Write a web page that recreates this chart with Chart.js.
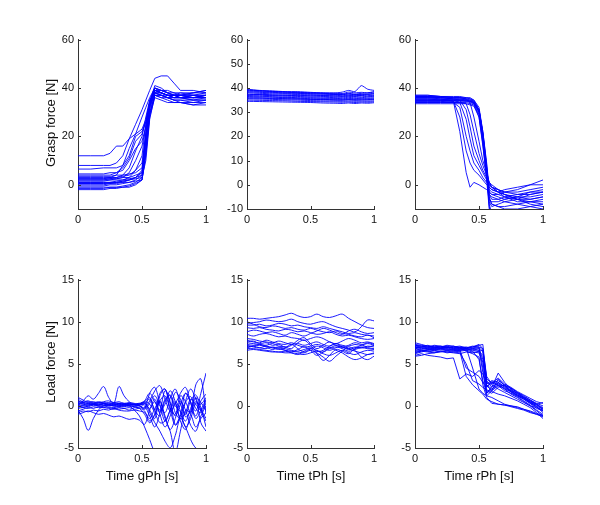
<!DOCTYPE html>
<html>
<head>
<meta charset="utf-8">
<title>Grasp and load force per phase</title>
<script src="https://cdn.jsdelivr.net/npm/chart.js@4.4.0/dist/chart.umd.min.js"></script>
<style>
    body { margin: 0; background: #fff; }
    #figure {
        position: relative;
        width: 600px;
        height: 505px;
        font-family: 'Liberation Sans', Arial, sans-serif;
        color: #111;
    }
    #figure canvas { position: absolute; }
    .axis-title {
        position: absolute;
        font-size: 13px;
        white-space: nowrap;
        transform: translate(-50%, -50%);
    }
    .axis-title.vertical { transform: translate(-50%, -50%) rotate(-90deg); }
</style>
</head>
<body>
<div id="figure">
    <canvas id="gphGrasp"></canvas>
    <canvas id="tphGrasp"></canvas>
    <canvas id="rphGrasp"></canvas>
    <canvas id="gphLoad"></canvas>
    <canvas id="tphLoad"></canvas>
    <canvas id="rphLoad"></canvas>

    <div class="axis-title vertical" style="left:50px; top:123px">Grasp force [N]</div>
    <div class="axis-title vertical" style="left:50px; top:362px">Load force [N]</div>
    <div class="axis-title" style="left:142px; top:475px">Time gPh [s]</div>
    <div class="axis-title" style="left:311px; top:475px">Time tPh [s]</div>
    <div class="axis-title" style="left:479px; top:475px">Time rPh [s]</div>
</div>

<script>
// ---- tick labels ----
const timeTicks = [0, 0.5, 1];
const graspTicksSparse = [0, 20, 40, 60];
const graspTicksDense = [-10, 0, 10, 20, 30, 40, 50, 60];
const loadTicks = [-5, 0, 5, 10, 15];

// ---- grip phase (gPh), grasp force ----
const gphGraspTime = [0, 0.1, 0.2, 0.25, 0.3, 0.35, 0.4, 0.45, 0.5, 0.53, 0.56, 0.6, 0.65, 0.7, 0.75, 0.8, 0.9, 1];
const gphGraspTrials = [
    [12, 12, 12, 13, 16, 16, 19, 21, 28, 32, 36, 40, 38, 37, 37, 36, 36, 37],
    [8, 8, 8, 8, 9, 12, 19, 25, 31, 35, 39, 44, 45, 45, 42, 39, 39, 38],
    [6.5, 6.5, 7, 7, 7, 8, 12, 20, 22, 26, 32, 39, 38, 37, 36, 36, 35, 35],
    [4.5, 4.5, 4.5, 5, 5, 6, 10, 15, 18, 24, 33, 38, 38, 37, 37, 37, 36, 36],
    [3, 3, 3, 3, 4, 8, 15, 21, 23, 27, 34, 39, 39, 38, 37, 37, 37, 38],
    [2, 2, 2, 2.5, 3, 4, 7, 14, 20, 28, 35, 38, 37, 36, 36, 36, 36, 37],
    [1, 1, 1, 1, 1.5, 2, 3, 6, 12, 25, 34, 39, 38, 37, 37, 38, 38, 39],
    [0, 0, 0, 0.5, 1, 1, 2, 3, 6, 18, 32, 38, 37, 36, 36, 36, 35, 35],
    [-1, -1, -1, -1, -1, -0.5, 0, 1, 3, 15, 30, 37, 36, 35, 34, 34, 33, 34],
    [-2, -2, -2, -1.5, -1.5, -1, -1, 0, 2, 12, 28, 36, 35, 34, 34, 34, 33, 33],
    [2.5, 2.5, 2.5, 2.5, 2.5, 3, 3, 4, 5, 20, 33, 39, 38, 37, 37, 37, 37, 36],
    [1.5, 1.5, 1.5, 2, 2, 2, 2.5, 3, 4, 16, 31, 38, 38, 37, 36, 37, 36, 37],
    [3.5, 3.5, 3.5, 3.5, 4, 4, 4.5, 5, 7, 22, 35, 40, 39, 39, 38, 37, 38, 39],
    [0.5, 0.5, 0.5, 0.5, 0.5, 1, 1, 1.5, 2, 14, 29, 37, 37, 36, 35, 35, 35, 36],
    [2, 2, 2, 2, 2.5, 3, 5, 10, 16, 24, 34, 41, 40, 38, 38, 38, 37, 37],
    [-0.5, -0.5, -0.5, 0, 0, 0.5, 1, 2, 4, 20, 33, 38, 37, 37, 36, 36, 37, 37],
    [4, 4, 4, 4, 5, 7, 11, 18, 21, 26, 34, 40, 39, 38, 37, 37, 36, 36],
    [1, 1, 1, 1, 1, 1.5, 2, 2.5, 3, 10, 27, 37, 37, 36, 35, 34, 34, 34],
    [0.5, 0.5, 0.5, 1, 1, 1.5, 2, 3, 5, 19, 33, 39, 38, 37, 37, 36, 36, 36],
    [2.5, 2.5, 2.5, 3, 3, 3.5, 4, 6, 9, 21, 34, 40, 39, 38, 37, 37, 38, 38],
    [-1.5, -1.5, -1.5, -1, -1, -1, -0.5, 0.5, 2, 13, 29, 37, 36, 36, 35, 35, 34, 35]
];

// ---- transport phase (tPh), grasp force ----
const tphGraspTime = [0, 0.1, 0.2, 0.3, 0.4, 0.5, 0.6, 0.7, 0.75, 0.8, 0.85, 0.9, 0.95, 1];
const tphGraspTrials = [
    [39.5, 39, 38.8, 38.5, 38.5, 38.2, 38, 38, 38.3, 39, 38.5, 41, 39.5, 39],
    [39, 38.8, 38.5, 38.3, 38, 38, 37.8, 37.5, 37.5, 37.8, 37.5, 37.8, 38, 38.5],
    [38.5, 38.2, 38, 37.8, 37.8, 37.5, 37.5, 37.3, 37.2, 37.5, 37.3, 37.3, 37.5, 37.8],
    [38, 37.8, 37.6, 37.5, 37.3, 37.2, 37, 37, 36.8, 37, 36.8, 37, 37.2, 37],
    [37.5, 37.3, 37, 37, 36.8, 36.7, 36.5, 36.4, 36.4, 36.5, 36.5, 36.6, 36.4, 36.6],
    [37, 37, 36.8, 36.6, 36.5, 36.3, 36.2, 36, 36, 36.1, 36, 36, 36.2, 36.3],
    [36.8, 36.6, 36.4, 36.2, 36, 36, 35.8, 35.7, 35.6, 35.7, 35.6, 35.8, 35.7, 35.9],
    [36.5, 36.3, 36.2, 36, 35.8, 35.6, 35.5, 35.4, 35.3, 35.4, 35.3, 35.5, 35.4, 35.5],
    [36, 35.9, 35.8, 35.6, 35.5, 35.3, 35.2, 35, 35, 35.1, 35, 35.1, 35, 35.2],
    [35.5, 35.4, 35.3, 35.1, 35, 34.8, 34.7, 34.6, 34.5, 34.6, 34.5, 34.6, 34.5, 34.7],
    [35, 34.9, 34.8, 34.7, 34.5, 34.4, 34.3, 34.2, 34.1, 34.2, 34, 34.2, 34.1, 34.3],
    [34.5, 34.4, 34.3, 34.2, 34.1, 34, 33.8, 33.7, 33.6, 33.8, 33.6, 33.8, 33.7, 33.9],
    [37.2, 37.4, 37.2, 37, 37, 36.8, 36.9, 36.7, 36.6, 36.8, 36.7, 36.9, 36.8, 37.1],
    [38.3, 38.5, 38.2, 38, 37.9, 37.7, 37.5, 37.4, 37.3, 37.5, 37.2, 37.5, 37.4, 37.6],
    [35.8, 35.8, 35.6, 35.5, 35.4, 35.3, 35.3, 35.1, 35, 35.2, 35, 35.1, 35.2, 35.4],
    [39.2, 38.9, 38.6, 38.4, 38.2, 38, 37.9, 37.8, 37.7, 38.3, 38, 38.2, 38, 38.3]
];

// ---- release phase (rPh), grasp force ----
const rphGraspTime = [0, 0.1, 0.2, 0.3, 0.35, 0.4, 0.43, 0.46, 0.5, 0.53, 0.56, 0.58, 0.6, 0.65, 0.7, 0.8, 0.9, 1];
const rphGraspTrials = [
    [36, 36, 35.5, 34.5, 22, 5, -1, 1, 0, -1, -2, -3, -4, -5, -6, -5, -3, -2],
    [35, 35, 35, 34.5, 28, 14, 9, 6, 4, 2, 0, -1, -2, -3, -4, -6, -7, -8],
    [34, 34, 34, 34, 32, 20, 14, 9, 6, 3, 1, 0, -1, -2, -3, -2, 0, 2],
    [35.5, 35.5, 35, 35, 34, 27, 19, 12, 8, 5, 2, 0, -1, -3, -4, -5, -5, -4],
    [36.5, 36.5, 36, 35.5, 35, 31, 24, 16, 10, 6, 3, 1, 0, -2, -3, -4, -3, -3],
    [34.5, 34.5, 34.5, 34, 34, 33.5, 29, 22, 13, 8, 4, 1, -1, -2, -4, -6, -8, -9],
    [37, 37, 36.5, 36, 36, 35.5, 34, 28, 18, 10, 5, 1, -1, -3, -5, -7, -7, -6],
    [36, 36, 36, 35.5, 35.5, 35.5, 35, 34, 30, 20, 6, -4, -6, -6, -5, -4, -4, -3],
    [35, 35, 35, 35, 35, 34.5, 34.5, 33.5, 28, 16, 3, -6, -7, -7, -6, -5, -6, -5],
    [34, 34, 34, 34, 34, 34, 33.5, 33, 29, 18, 4, -8, -12, -12, -12, -12, -12, -12],
    [37, 37, 36.5, 36.5, 36.5, 36, 36, 35, 31, 21, 7, -3, -4, -4, -5, -6, -6, -5],
    [35.5, 35.5, 35.5, 35, 35, 35, 34.5, 34, 31, 22, 9, -2, -3, -4, -3, -3, -2, -1],
    [33.5, 33.5, 33.5, 33.5, 33.5, 33.5, 33, 32.5, 28, 17, 2, -10, -14, -14, -14, -14, -14, -14],
    [36.5, 36.5, 36.5, 36, 36, 36, 35.5, 35, 32, 22, 8, -5, -8, -9, -9, -8, -7, -7],
    [34.5, 34.5, 34.5, 34.5, 34.5, 34.5, 34, 33.5, 30, 19, 5, -7, -9, -8, -7, -6, -4, -3],
    [35, 35, 35, 35, 35, 35, 34.5, 34, 30.5, 20, 5, -9, -15, -15, -15, -15, -15, -15],
    [36, 36, 36, 35.5, 35.5, 35, 35, 34.5, 31, 21, 6, -4, -5, -6, -7, -8, -9, -10],
    [36.5, 36.5, 36, 36, 36, 35.5, 35.5, 34.5, 30, 19, 5, -6, -8, -9, -10, -10, -9, -8],
    [35, 35, 35, 35, 35, 35, 34.5, 34, 31, 21, 7, -1, -2, -3, -2, -1, 0, 0]
];

// ---- grip phase (gPh), load force ----
const gphLoadTime = [0, 0.04, 0.08, 0.12, 0.16, 0.2, 0.24, 0.28, 0.32, 0.36, 0.4, 0.44, 0.48,
    0.52, 0.56, 0.6, 0.64, 0.68, 0.72, 0.76, 0.8, 0.84, 0.88, 0.92, 0.96, 1];
const gphLoadTrials = [
    [0.5, 0.4, 0.3, 0.3, 0.2, 0.3, 0.2, 0.2, 0.3, 0.2, 0.1, 0.2, 0.1, 0.3, 0.8, -0.5, -1.2, 0.6, 1.2, -0.8, -1.5, 0.4, 1.1, -0.3, -0.8, 0.6],
    [0, -0.2, 0, 0.1, 0, 0, 0.1, 0, -0.1, 0, 0, -0.1, 0, -0.3, 1.5, 2.2, 0.2, -1.8, -0.5, 1.6, 0.8, -1.3, -0.6, 0.9, 0.4, -0.5],
    [0.8, 0.5, 0.6, 0.4, 0.5, 0.4, 0.3, 0.4, 0.3, 0.3, 0.2, 0.2, 0.3, 0, -1.2, -2.5, -0.8, 1.8, 0.5, -2.2, -1, 1.5, 0.3, -1.5, -0.5, 0.8],
    [-0.5, -1.5, -2.9, -1.5, -0.5, 0, -0.2, -0.3, -0.5, -0.6, -0.6, -0.5, -0.6, -0.8, -1.5, -0.3, 0.6, -1.2, -2.8, -1.5, 0.5, -0.5, -2.3, -3, -1.2, 0],
    [0.2, 0.6, 1.2, 0.8, 1.5, 2.3, 1, 0.3, 2.3, 1.2, 0.5, 0.2, 0.3, 0.5, 0.2, -0.8, -2, -1.8, -0.5, 0.5, -0.6, -2.5, -1.5, 0.3, 0.2, 1],
    [0.3, 0.3, 0.2, 0.2, 0.2, 0.1, 0.1, 0, 0, 0.1, 0, -0.5, -1.2, -2.5, -4, -5.5, -6, -6, -6, -6, -6, -6, -6, -6, -6, -6],
    [-0.8, -0.6, -0.7, -0.5, -0.6, -0.4, -0.5, -0.3, -0.4, -0.3, -0.5, -0.2, -0.3, -1, -2, -1, 0.5, -1.5, -3, -5.5, -3, -0.5, -1, -2.5, -1.5, -0.8],
    [0.1, 0, 0.1, 0.2, 0.1, 0.2, 0.1, 0.1, 0.2, 0.1, 0.2, 0.2, 0.1, 0.5, 1, -0.5, 1.5, 2, -0.2, -1, 1.2, 0.5, -0.8, 2.5, 3.2, -1],
    [0.6, 0.4, 0.5, 0.3, 0.4, 0.3, 0.4, 0.2, 0.3, 0.2, 0.3, 0.1, 0.2, 0.4, -0.5, -1.5, 1.2, 2, 0.3, -1.2, 0.2, 1.5, 0.5, -0.6, 1.5, 3.9],
    [-0.3, -0.2, -0.3, -0.1, -0.2, -0.2, -0.1, -0.2, -0.1, -0.1, 0, -0.1, -0.2, 0.2, -0.8, -2, -3, -4.2, -5, -3.5, -1.5, -2.5, -4, -5, -5.2, -5.5],
    [1, 0.7, 0.4, 0.5, 0.3, 0.5, 0.6, 0.4, 0.5, 0.3, 0.4, 0.3, 0.2, 0.6, 1.5, 0.5, -0.5, 0.2, 1.8, 0.5, -1.5, -0.8, 0.8, 0.2, -0.5, 0.3],
    [-1, -0.8, -0.6, -0.8, -1, -0.9, -1.1, -1.3, -1.2, -1.4, -1.6, -1.5, -1.7, -2.2, -0.5, 0.8, -1, -2.5, -1.2, 0.3, -1.8, -2.8, -1, 0.5, -0.4, -1.5],
    [0.4, 0.2, 0.1, 0.2, 0.1, 0.3, 0.1, 0.2, 0.1, 0.2, 0.1, 0.2, 0, -0.4, 0.3, 1.2, 0, -0.8, 0.9, 2, 0.2, -1, 0.6, 1.3, -0.2, -2.5],
    [-0.2, 0, -0.1, 0.1, 0, 0, 0.1, 0, 0.1, 0, 0.1, 0, 0.1, 0.3, -0.3, 0.5, -0.8, 0.8, 1.3, 0, -0.7, -1.8, -0.3, 1, -2, -3],
    [0.2, 0.1, 0.3, 0.2, 0.4, 0.3, 0.2, 0.3, 0.1, 0.2, 0.3, 0.1, 0, -0.2, 0.6, 1.8, 2.4, 0.8, -0.6, 0.2, 1.5, 2.2, 0.4, -1.2, 0.6, 1.4],
    [-0.6, -0.4, -0.2, -0.3, -0.1, -0.2, -0.3, -0.4, -0.2, -0.3, -0.2, -0.4, -0.3, -0.6, -1.8, -1, 0.6, 1.2, -0.5, -2.3, -1.2, 0.6, 2, 0.8, -0.6, -1.8]
];

// ---- transport phase (tPh), load force ----
const tphLoadTime = [0, 0.05, 0.1, 0.15, 0.2, 0.25, 0.3, 0.35, 0.4, 0.45, 0.5,
    0.55, 0.6, 0.65, 0.7, 0.75, 0.8, 0.85, 0.9, 0.95, 1];
const tphLoadTrials = [
    [10.4, 10.4, 10.3, 10.4, 10.5, 10.6, 10.8, 11, 10.7, 10.5, 10.6, 10.9, 10.6, 10.5, 10.7, 10.9, 10.4, 10, 9.6, 9.3, 9.2],
    [9.8, 9.9, 10, 10.2, 10.1, 10, 10.1, 10.3, 10, 9.8, 9.7, 9.9, 10, 9.7, 9.4, 9.2, 9, 8.8, 9.4, 10.2, 10.1],
    [9.6, 9.6, 9.7, 9.5, 9.6, 9.8, 9.7, 9.5, 9.6, 9.4, 9.3, 9.2, 9.4, 9.2, 9, 8.8, 8.6, 8.7, 8.5, 8.4, 8.3],
    [10, 9.7, 9.4, 9.3, 9.5, 9.4, 9.2, 9.3, 9.1, 9, 9.2, 9, 8.8, 8.7, 8.9, 8.6, 8.5, 8.3, 8.2, 8.4, 8.1],
    [9.3, 9.2, 9.3, 9.1, 9, 8.9, 9.1, 9, 8.8, 8.9, 8.7, 8.5, 8.6, 8.8, 8.5, 8.3, 8.4, 8.2, 8, 7.9, 8],
    [8.8, 9, 8.9, 8.7, 8.8, 8.6, 8.4, 8.7, 8.5, 8.3, 8.6, 8.9, 9.2, 9, 8.7, 8.5, 8.9, 9.1, 8.8, 8.6, 8.7],
    [8.5, 8.3, 8.5, 8.6, 8.4, 8.2, 8.3, 8.1, 8, 7.8, 8, 8.2, 8, 7.6, 7.4, 7.7, 8, 7.8, 7.5, 7.6, 7.4],
    [7.8, 7.6, 7.5, 7.8, 7.6, 7.4, 7.3, 7.5, 7.2, 7, 7.1, 7.3, 7.1, 6.9, 7.2, 7, 6.8, 7, 6.9, 7.1, 7],
    [7.5, 7.4, 7.3, 7.2, 7.4, 7.1, 7, 6.8, 7.5, 7.8, 7.2, 6.5, 6.6, 7.1, 7.4, 7, 6.7, 6.9, 7.2, 7.5, 7.3],
    [7.3, 7.2, 7.3, 7.1, 6.9, 7, 6.8, 6.6, 6.5, 6.7, 6.9, 6.6, 6.4, 6.8, 7, 6.8, 6.5, 6.7, 6.9, 6.8, 6.7],
    [7, 7.1, 6.9, 6.8, 7, 6.8, 6.6, 6.5, 6.4, 6.3, 6.6, 6.2, 5.4, 6, 6.7, 6.5, 6.2, 6.8, 7, 6.9, 6.8],
    [6.8, 6.8, 6.7, 6.6, 6.5, 6.4, 6.5, 6.3, 6.1, 6.5, 6.8, 6.3, 5.8, 5.3, 5.9, 6.5, 7, 6.6, 5.8, 5.5, 5.9],
    [7.6, 7.7, 7.4, 7.5, 7.2, 7.3, 7, 7.2, 7.8, 8.1, 7.4, 6.8, 7.2, 7.6, 7.2, 6.9, 7.2, 7.5, 7.3, 7, 7.2],
    [6.6, 6.7, 6.6, 6.5, 6.4, 6.4, 6.3, 6.3, 6.2, 6.1, 6.3, 6.5, 6.2, 6, 6.3, 6.6, 6.3, 6.1, 6.4, 6.6, 6.5],
    [8, 7.9, 7.7, 7.6, 7.5, 7.7, 7.5, 7.3, 7.4, 7.2, 7.4, 7.6, 7.3, 7.1, 7.4, 7.2, 7.1, 7.3, 7.2, 7.4, 7.2],
    [7.2, 7, 6.9, 7.1, 6.9, 6.7, 6.9, 7.3, 6.8, 6.4, 6.8, 7.1, 6.9, 6.6, 6.9, 7.1, 6.8, 6.5, 6.3, 6.1, 6.3],
    [6.9, 7.1, 7.2, 7, 6.7, 6.9, 6.6, 6.4, 6.7, 7, 6.6, 6, 6.4, 6.9, 6.6, 6.3, 5.8, 5.5, 5.7, 6.1, 6.2]
];

// ---- release phase (rPh), load force ----
const rphLoadTime = [0, 0.05, 0.1, 0.15, 0.2, 0.25, 0.3, 0.35, 0.4, 0.45, 0.5,
    0.53, 0.56, 0.6, 0.65, 0.7, 0.75, 0.8, 0.85, 0.9, 0.95, 1];
const rphLoadTrials = [
    [7.2, 7.1, 7, 6.9, 6.9, 7, 6.8, 6.9, 7, 6.8, 6.9, 6.5, 2.5, 2, 2.8, 2.2, 1.8, 1.5, 1, 0.6, 0.2, -0.2],
    [6.8, 6.9, 6.8, 6.7, 6.8, 6.6, 6.7, 6.8, 6.6, 6.7, 6.8, 5.5, 1.8, 1.5, 2.2, 2.5, 1.6, 1.2, 0.8, 0.3, -0.3, -0.6],
    [7.5, 7.3, 7.1, 7, 7.1, 6.9, 7, 7.1, 6.9, 7, 7.2, 7.3, 3, 2.2, 3.9, 2.8, 2, 1.4, 1, 0.5, 0, -0.4],
    [6.2, 6.4, 6.6, 6.8, 6.7, 6.8, 6.6, 6.7, 6.8, 6.6, 6.5, 6, 2.2, 2.8, 2.4, 1.8, 1.5, 1.1, 0.6, 0.1, -0.5, -1],
    [7, 6.8, 6.9, 7.1, 7, 6.9, 7.1, 6.9, 6.8, 6.9, 7, 6.8, 3.5, 2.6, 3, 2.5, 2.1, 1.6, 1.2, 0.7, 0.3, 0],
    [6.5, 6.6, 6.7, 6.6, 6.5, 6.6, 6.5, 6.6, 6.7, 6.8, 6.6, 4, 1.5, 2.3, 2.7, 2, 1.4, 1, 0.5, 0, -0.2, -0.5],
    [5.9, 6, 6.2, 6.3, 6.4, 6.5, 6.4, 6.5, 6.6, 6.4, 6.3, 5.2, 2.4, 1.8, 2.4, 2.1, 1.7, 1.3, 0.9, 0.4, -0.1, -0.8],
    [6, 6.2, 6, 5.9, 5.8, 5.6, 5.7, 3.2, 3.8, 3.5, 4.2, 3.8, 2.8, 2.5, 2, 1.6, 1.2, 0.8, 0.4, 0, -0.6, -1.2],
    [6.8, 6.6, 6.5, 6.4, 6.5, 6.3, 6.4, 6.3, 5, 3, 2.6, 2.2, 1.9, 1.7, 1.4, 1.2, 0.9, 0.6, 0.2, -0.2, -0.8, -1.5],
    [7.3, 7.2, 7.1, 6.9, 7, 7.1, 6.9, 6.8, 6.9, 4.5, 2, 1.5, 1.2, 1, 0.6, 0.2, 0, -0.2, -0.4, -0.6, -0.9, -1.1],
    [6.6, 6.7, 6.5, 6.6, 6.8, 6.7, 6.6, 6.5, 3.5, 2.5, 1.8, 1.4, 0.8, 0.5, 0.2, 0.1, 0, -0.1, -0.4, -0.7, -1, -1.3],
    [7, 6.9, 6.8, 6.7, 6.8, 6.9, 6.7, 6.6, 6.8, 6.5, 5.5, 3, 1.5, 2, 2.5, 2.4, 1.9, 1.5, 1, 0.4, 0.1, -0.3],
    [6.4, 6.5, 6.4, 6.3, 6.5, 6.4, 6.3, 6.2, 6.4, 6.3, 6.5, 6.6, 3.2, 2.7, 3.3, 2.6, 2.2, 1.7, 1.3, 0.9, 0.5, 0.3],
    [7.1, 7, 7.2, 7, 6.8, 6.9, 7, 6.9, 6.5, 6.2, 5.8, 2.5, 1, 0.3, 0.2, 0.1, -0.1, -0.3, -0.5, -0.8, -1, -1.2],
    [6.3, 6.5, 6.7, 6.9, 7, 7.2, 7.1, 6.9, 6.8, 7, 7.3, 6.8, 2.6, 3, 2.8, 2.3, 1.8, 1.3, 0.9, 0.5, 0.2, 0.4],
    [6.9, 7, 6.9, 6.8, 6.9, 7, 6.8, 6.7, 4.5, 4, 3.5, 2.8, 2.3, 2.9, 2.5, 2, 1.7, 1.2, 0.8, 0.3, -0.1, -0.6],
    [7.2, 7.1, 7, 7.2, 7.1, 7, 6.9, 7, 6.9, 7.1, 7, 4.5, 1.2, 1.8, 3.2, 2.4, 2.1, 1.6, 1.1, 0.7, 0.2, -0.4]
];

// ---- layout (plot-area boxes in page pixels) ----
const Y_AXIS_W = 40;
const X_AXIS_H = 20;
const PAD_TOP = 8;
const PAD_RIGHT = 10;
const LINE_COLOR = '#0000ff';
const AXIS_COLOR = '#333';

const panels = [
    { id: 'gphGrasp', box: { left: 78, top: 37, width: 128, height: 172 }, time: gphGraspTime, trials: gphGraspTrials, yMin: -10, yMax: 60, yTicks: graspTicksSparse, tension: 0 },
    { id: 'tphGrasp', box: { left: 247, top: 37, width: 127, height: 172 }, time: tphGraspTime, trials: tphGraspTrials, yMin: -10, yMax: 60, yTicks: graspTicksDense, tension: 0.2 },
    { id: 'rphGrasp', box: { left: 415, top: 37, width: 128, height: 172 }, time: rphGraspTime, trials: rphGraspTrials, yMin: -10, yMax: 60, yTicks: graspTicksSparse, tension: 0 },
    { id: 'gphLoad', box: { left: 78, top: 277, width: 128, height: 171 }, time: gphLoadTime, trials: gphLoadTrials, yMin: -5, yMax: 15, yTicks: loadTicks, tension: 0.35 },
    { id: 'tphLoad', box: { left: 247, top: 277, width: 127, height: 171 }, time: tphLoadTime, trials: tphLoadTrials, yMin: -5, yMax: 15, yTicks: loadTicks, tension: 0.35 },
    { id: 'rphLoad', box: { left: 415, top: 277, width: 128, height: 171 }, time: rphLoadTime, trials: rphLoadTrials, yMin: -5, yMax: 15, yTicks: loadTicks, tension: 0 }
];

// MATLAB-style tick marks pointing into the plot area
const inwardTicks = {
    id: 'inwardTicks',
    afterDatasetsDraw(chart) {
        const { ctx, chartArea: area, scales: { x, y } } = chart;
        ctx.save();
        ctx.strokeStyle = AXIS_COLOR;
        ctx.lineWidth = 1;
        ctx.beginPath();
        x.ticks.forEach(t => {
            const px = Math.round(x.getPixelForValue(t.value)) + 0.5;
            ctx.moveTo(px, area.bottom);
            ctx.lineTo(px, area.bottom - 3);
        });
        y.ticks.forEach(t => {
            const py = Math.round(y.getPixelForValue(t.value)) + 0.5;
            ctx.moveTo(area.left, py);
            ctx.lineTo(area.left + 3, py);
        });
        ctx.stroke();
        ctx.restore();
    }
};

const tickFont = { family: "'Liberation Sans', Arial, sans-serif", size: 11 };

function buildPanel(panel) {
    const canvas = document.getElementById(panel.id);
    canvas.width = Y_AXIS_W + panel.box.width + PAD_RIGHT;
    canvas.height = PAD_TOP + panel.box.height + X_AXIS_H;
    canvas.style.left = (panel.box.left - Y_AXIS_W) + 'px';
    canvas.style.top = (panel.box.top - PAD_TOP) + 'px';

    const datasets = panel.trials.map(values => ({
        data: values.map((v, i) => ({ x: panel.time[i], y: v })),
        borderColor: LINE_COLOR,
        borderWidth: 0.9,
        pointRadius: 0,
        tension: panel.tension,
        fill: false
    }));

    new Chart(canvas, {
        type: 'line',
        data: { datasets },
        options: {
            responsive: false,
            animation: false,
            events: [],
            layout: { padding: { top: PAD_TOP, right: PAD_RIGHT, left: 0, bottom: 0 } },
            plugins: { legend: { display: false }, tooltip: { enabled: false } },
            scales: {
                x: {
                    type: 'linear',
                    min: 0,
                    max: 1,
                    afterBuildTicks: scale => { scale.ticks = timeTicks.map(v => ({ value: v })); },
                    afterFit: scale => { scale.height = X_AXIS_H; },
                    grid: { display: false, drawTicks: false },
                    border: { display: true, color: AXIS_COLOR, width: 1 },
                    ticks: { color: '#111', font: tickFont, padding: 4, maxRotation: 0, callback: v => String(v) }
                },
                y: {
                    min: panel.yMin,
                    max: panel.yMax,
                    afterBuildTicks: scale => { scale.ticks = panel.yTicks.map(v => ({ value: v })); },
                    afterFit: scale => { scale.width = Y_AXIS_W; },
                    grid: { display: false, drawTicks: false },
                    border: { display: true, color: AXIS_COLOR, width: 1 },
                    ticks: { color: '#111', font: tickFont, padding: 4, callback: v => String(v) }
                }
            }
        },
        plugins: [inwardTicks]
    });
}

document.addEventListener('DOMContentLoaded', () => panels.forEach(buildPanel));
</script>
</body>
</html>
